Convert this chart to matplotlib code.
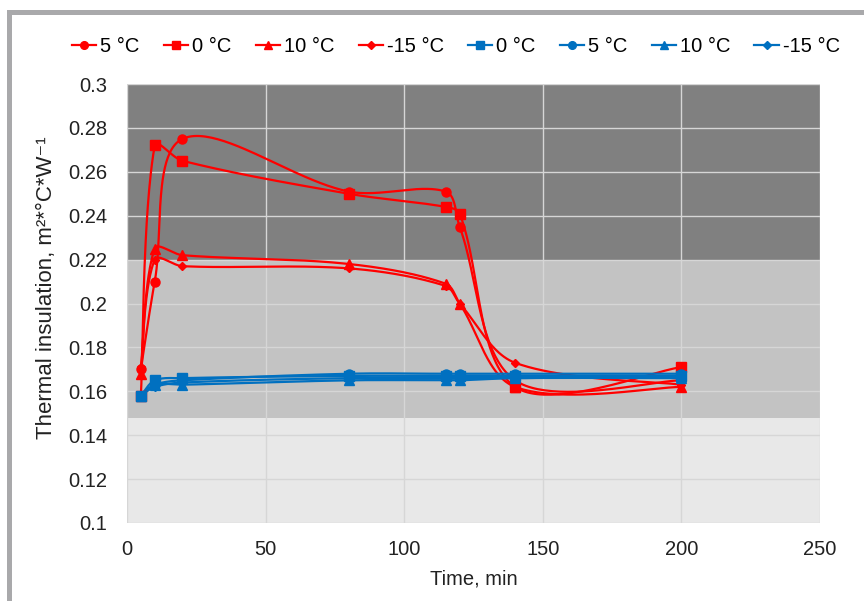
import numpy as np
import matplotlib
matplotlib.use('Agg')
import matplotlib.pyplot as plt
from matplotlib.lines import Line2D
from matplotlib.patches import Rectangle

plt.rcParams['font.family'] = ['Liberation Sans', 'DejaVu Sans']

# time points, min
time = [5, 10, 20, 80, 115, 120, 140, 200]

# red group
red_5 = [0.170, 0.210, 0.275, 0.251, 0.251, 0.235, 0.165, 0.165]
red_0 = [0.158, 0.272, 0.265, 0.250, 0.244, 0.241, 0.162, 0.171]
red_10 = [0.168, 0.225, 0.222, 0.218, 0.209, 0.200, 0.162, 0.162]
red_m15 = [0.171, 0.220, 0.217, 0.216, 0.208, 0.200, 0.173, 0.163]

# blue group
blue_0 = [0.158, 0.165, 0.166, 0.167, 0.167, 0.167, 0.167, 0.167]
blue_5 = [0.158, 0.163, 0.165, 0.168, 0.168, 0.168, 0.168, 0.168]
blue_10 = [0.158, 0.163, 0.163, 0.165, 0.165, 0.165, 0.166, 0.166]
blue_m15 = [0.158, 0.162, 0.164, 0.166, 0.166, 0.166, 0.166, 0.167]

series = [
    ('5 °C', red_5, '#ff0000', 'o', 6.5),
    ('0 °C', red_0, '#ff0000', 's', 6.5),
    ('10 °C', red_10, '#ff0000', '^', 6.5),
    ('-15 °C', red_m15, '#ff0000', 'D', 4.5),
    ('0 °C', blue_0, '#0070c0', 's', 6.5),
    ('5 °C', blue_5, '#0070c0', 'o', 6.5),
    ('10 °C', blue_10, '#0070c0', '^', 6.5),
    ('-15 °C', blue_m15, '#0070c0', 'D', 4.5),
]

# pixel per data unit, used to weight the smoothing like a screen drawn curve
PX_X = 693 / 250
PX_Y = 439 / 0.2


def smooth(xs, ys, n=50):
    # smoothed line: cubic bezier, tangents weighted by segment lengths
    p = np.column_stack([np.array(xs) * PX_X, np.array(ys) * PX_Y]).astype(float)
    m = len(p)
    d = np.hypot(*np.diff(p, axis=0).T)
    out = []
    t = np.linspace(0, 1, n)[:, None]
    for i in range(m - 1):
        p0, p1 = p[i], p[i + 1]
        if i == 0:
            c1 = p0 + (p1 - p0) / 6
        else:
            c1 = p0 + (p1 - p[i - 1]) * d[i] / (d[i - 1] + d[i]) / 3
        if i == m - 2:
            c2 = p1 - (p1 - p0) / 6
        else:
            c2 = p1 - (p[i + 2] - p0) * d[i] / (d[i] + d[i + 1]) / 3
        seg = ((1 - t) ** 3) * p0 + 3 * ((1 - t) ** 2) * t * c1 + 3 * (1 - t) * t ** 2 * c2 + t ** 3 * p1
        out.append(seg)
    out = np.vstack(out)
    return out[:, 0] / PX_X, out[:, 1] / PX_Y


fig = plt.figure(figsize=(8.64, 6.01), dpi=100)
ax = fig.add_axes([127 / 864, 1 - 523 / 601, 693 / 864, 439 / 601])

ax.axhspan(0.22, 0.3, color='#808080', zorder=0, lw=0)
ax.axhspan(0.148, 0.22, color='#c3c3c3', zorder=0, lw=0)
ax.axhspan(0.1, 0.148, color='#e8e8e8', zorder=0, lw=0)

ax.set_xlim(0, 250)
ax.set_ylim(0.1, 0.3)
yt = np.round(np.arange(0.1, 0.3001, 0.02), 2)
ax.set_xticks(np.arange(0, 251, 50))
ax.set_yticks(yt)
ax.set_yticklabels(['{:g}'.format(v) for v in yt])
ax.grid(True, color='#d6d6d6', lw=1, zorder=1)
ax.set_axisbelow(False)
for s in ax.spines.values():
    s.set_visible(False)
ax.tick_params(length=0, labelsize=14.5, labelcolor='#222222')
ax.tick_params(axis='y', pad=14)
ax.tick_params(axis='x', pad=12)

handles = []
for label, ys, color, marker, ms in series:
    sx, sy = smooth(time, ys)
    ax.plot(sx, sy, color=color, lw=1.6, zorder=3)
    ax.plot(time, ys, linestyle='none', marker=marker, color=color, markersize=ms, zorder=4)
    handles.append(Line2D([], [], color=color, lw=1.6, marker=marker, markersize=ms * 0.85))

ax.set_xlabel('Time, min', fontsize=14.5, color='#222222', labelpad=8)
ax.set_ylabel('Thermal insulation, m²*°C*W⁻¹', fontsize=16, color='#222222')
ax.yaxis.set_label_coords(-70 / 693, (523 - 288) / 439)

fig.legend(handles, [s[0] for s in series], loc='center', bbox_to_anchor=(456 / 864, 1 - 47 / 601),
           ncol=8, frameon=False, fontsize=14.5, handlelength=1.2, handletextpad=0.2,
           columnspacing=1.2)

# grey frame from the cropped chart border
fig.add_artist(Rectangle((7 / 864, 0), 5 / 864, 1 - 10 / 601, transform=fig.transFigure,
                         color='#a9a9ab', lw=0))
fig.add_artist(Rectangle((7 / 864, 1 - 15 / 601), 1, 5 / 601, transform=fig.transFigure,
                         color='#a9a9ab', lw=0))

fig.savefig('out.png', dpi=100)
